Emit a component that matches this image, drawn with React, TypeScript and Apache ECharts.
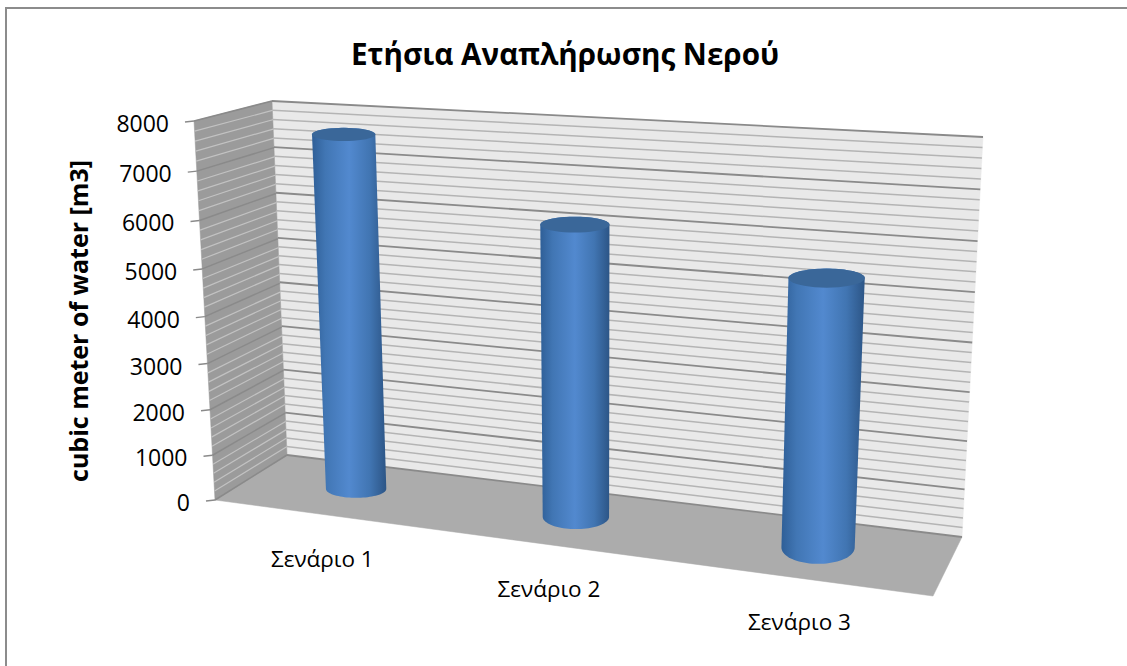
import React, { useEffect, useRef } from "react";
import * as echarts from "echarts";

const categories = ["Σενάριο 1", "Σενάριο 2", "Σενάριο 3"];
const waterVolumes = [7600, 6050, 5350];
const axisMax = 8000;
const majorStep = 1000;
const minorStep = 200;
const chartTitle = "Ετήσια Αναπλήρωσης Νερού";
const axisTitle = "cubic meter of water [m3]";

type Pt = [number, number];

// Corners of the 3D box on screen.
const floorFrontLeft: Pt = [215, 500];
const floorFrontRight: Pt = [933, 596];
const floorBackRight: Pt = [962, 537];
const floorBackLeft: Pt = [287, 455];
const topFrontLeft: Pt = [194, 121];
const topBackLeft: Pt = [272, 101];
const topBackRight: Pt = [983, 137];
const verticalVanish: Pt = [600, 7440];

const gridRect = { left: 100, top: 122, width: 800, height: 381 };
const fontFamily = "'Open Sans', 'Noto Sans', sans-serif";

// Coefficients of the projective map from the unit square to a quadrilateral.
function quadCoefficients(p0: Pt, p1: Pt, p2: Pt, p3: Pt) {
  const dx1 = p1[0] - p2[0];
  const dx2 = p3[0] - p2[0];
  const sx = p0[0] - p1[0] + p2[0] - p3[0];
  const dy1 = p1[1] - p2[1];
  const dy2 = p3[1] - p2[1];
  const sy = p0[1] - p1[1] + p2[1] - p3[1];
  const den = dx1 * dy2 - dx2 * dy1;
  const g = (sx * dy2 - dx2 * sy) / den;
  const h = (dx1 * sy - sx * dy1) / den;
  return {
    a: p1[0] - p0[0] + g * p1[0],
    b: p3[0] - p0[0] + h * p3[0],
    c: p0[0],
    d: p1[1] - p0[1] + g * p1[1],
    e: p3[1] - p0[1] + h * p3[1],
    f: p0[1],
    g,
    h,
  };
}

function quadMapper(p0: Pt, p1: Pt, p2: Pt, p3: Pt) {
  const m = quadCoefficients(p0, p1, p2, p3);
  return (s: number, t: number): Pt => {
    const den = m.g * s + m.h * t + 1;
    return [(m.a * s + m.b * t + m.c) / den, (m.d * s + m.e * t + m.f) / den];
  };
}

const floorPlane = quadMapper(floorFrontLeft, floorFrontRight, floorBackRight, floorBackLeft);
const backPlane = quadMapper(floorBackLeft, floorBackRight, topBackRight, topBackLeft);
const leftPlane = quadMapper(floorFrontLeft, floorBackLeft, topBackLeft, topFrontLeft);

// Full camera: the floor map plus a vertical direction towards its vanishing point.
const floorCoef = quadCoefficients(floorFrontLeft, floorFrontRight, floorBackRight, floorBackLeft);
const verticalK =
  (topFrontLeft[0] - floorFrontLeft[0]) / (verticalVanish[0] - topFrontLeft[0]);

function project(u: number, v: number, w: number): Pt {
  const m = floorCoef;
  const den = m.g * u + m.h * w + 1 + v * verticalK;
  return [
    (m.a * u + m.b * w + m.c + v * verticalK * verticalVanish[0]) / den,
    (m.d * u + m.e * w + m.f + v * verticalK * verticalVanish[1]) / den,
  ];
}

const gridLevels: number[] = [];
for (let value = 0; value <= axisMax; value += minorStep) gridLevels.push(value);
const axisTicks: number[] = [];
for (let value = 0; value <= axisMax; value += majorStep) axisTicks.push(value);

const columnDepth = 0.52;

const toU = (px: number) => (px - gridRect.left) / gridRect.width;
const toV = (py: number) => (gridRect.top + gridRect.height - py) / gridRect.height;

function renderBox(_params: any, api: any) {
  const children: any[] = [];
  const poly = (points: Pt[], fill: string) => ({
    type: "polygon",
    shape: { points },
    style: { fill, stroke: fill, lineWidth: 0.5 },
  });
  children.push(poly([floorPlane(0, 0), floorPlane(1, 0), floorPlane(1, 1), floorPlane(0, 1)], "#acacac"));
  children.push(poly([backPlane(0, 0), backPlane(1, 0), backPlane(1, 1), backPlane(0, 1)], "#e9e9e9"));
  children.push(poly([leftPlane(0, 0), leftPlane(1, 0), leftPlane(1, 1), leftPlane(0, 1)], "#9b9b9b"));
  for (const level of gridLevels) {
    const v = toV(api.coord([0, level])[1]);
    const major = level % majorStep === 0;
    children.push({
      type: "line",
      shape: { x1: backPlane(0, v)[0], y1: backPlane(0, v)[1], x2: backPlane(1, v)[0], y2: backPlane(1, v)[1] },
      style: { stroke: major ? "#8a8a8a" : "#b4b4b4", lineWidth: major ? 1.8 : 1.5 },
    });
    children.push({
      type: "line",
      shape: { x1: leftPlane(0, v)[0], y1: leftPlane(0, v)[1], x2: leftPlane(1, v)[0], y2: leftPlane(1, v)[1] },
      style: { stroke: major ? "#8a8a8a" : "#c2c2c2", lineWidth: major ? 1.5 : 1.2 },
    });
  }
  return { type: "group", children };
}

// An upright cylinder: its end ellipses stay level on screen and open up towards the viewer.
function renderColumn(_params: any, api: any) {
  const categoryIndex = api.value(0);
  const center = api.coord([categoryIndex, 0]);
  const top = api.coord([categoryIndex, api.value(1)]);
  const u = toU(center[0]);
  const v = toV(top[1]);
  const uRadius = (api.size([1, 0])[0] / gridRect.width) * 0.144;
  const ring = (height: number, ratio: number) => {
    const mid = project(u, height, columnDepth);
    const rx =
      (project(u + uRadius, height, columnDepth)[0] - project(u - uRadius, height, columnDepth)[0]) / 2;
    return { mid, rx, ry: rx * ratio };
  };
  const arc = (e: { mid: Pt; rx: number; ry: number }, from: number, to: number): Pt[] => {
    const pts: Pt[] = [];
    for (let i = 0; i <= 40; i++) {
      const angle = from + ((to - from) * i) / 40;
      pts.push([e.mid[0] + e.rx * Math.cos(angle), e.mid[1] + e.ry * Math.sin(angle)]);
    }
    return pts;
  };
  const base = ring(0, 0.26 + 0.22 * u);
  const head = ring(v, 0.2 + 0.06 * u);
  // Screen y grows downward, so angles 0 to PI trace the near side of the base.
  const body = [...arc(base, Math.PI, 0), ...arc(head, 0, -Math.PI)];
  return {
    type: "group",
    children: [
      {
        type: "polygon",
        shape: { points: body },
        style: {
          fill: new echarts.graphic.LinearGradient(0, 0, 1, 0, [
            { offset: 0, color: "#2f5f97" },
            { offset: 0.18, color: "#4176b4" },
            { offset: 0.5, color: "#5289cf" },
            { offset: 0.78, color: "#4175b2" },
            { offset: 1, color: "#2c5586" },
          ]),
        },
      },
      { type: "polygon", shape: { points: arc(head, 0, 2 * Math.PI) }, style: { fill: "#3a6799" } },
    ],
  };
}

function renderAxisTick(_params: any, api: any) {
  const level = api.value(0);
  const v = toV(api.coord([0, level])[1]);
  const edge = leftPlane(0, v);
  return {
    type: "group",
    children: [
      {
        type: "line",
        shape: { x1: edge[0] - 9, y1: edge[1] + 1, x2: edge[0], y2: edge[1] },
        style: { stroke: "#8a8a8a", lineWidth: 1.5 },
      },
      {
        type: "text",
        x: edge[0] - 25,
        y: edge[1] + 2,
        style: {
          text: String(level),
          fill: "#000",
          font: `23px ${fontFamily}`,
          textAlign: "right",
          textVerticalAlign: "middle",
        },
      },
    ],
  };
}

function renderCategoryLabel(_params: any, api: any) {
  const index = api.value(0);
  const u = toU(api.coord([index, 0])[0]);
  const edge = floorPlane(u, 0);
  return {
    type: "text",
    x: edge[0] + 2,
    y: edge[1] + 44,
    style: {
      text: categories[index],
      fill: "#000",
      font: `22.5px ${fontFamily}`,
      textAlign: "center",
      textVerticalAlign: "middle",
    },
  };
}

export default function App() {
  const ref = useRef<HTMLDivElement>(null);
  useEffect(() => {
    document.body.style.margin = "0";
    const chart = echarts.init(ref.current!, undefined, { renderer: "svg" });
    chart.setOption({
      animation: false,
      backgroundColor: "#ffffff",
      title: {
        text: chartTitle,
        left: 565,
        top: 33,
        textAlign: "center",
        textStyle: {
          fontFamily,
          fontWeight: "bold",
          fontSize: 29.6,
          color: "#000",
        },
      },
      grid: { ...gridRect },
      xAxis: { type: "category", data: categories, show: false },
      yAxis: { type: "value", min: 0, max: axisMax, interval: majorStep, show: false },
      graphic: [
        {
          type: "polyline",
          silent: true,
          shape: { points: [[6, 666], [6, 8], [1127, 8]] },
          style: { fill: "none", stroke: "#8c8c8c", lineWidth: 2 },
        },
        {
          type: "text",
          x: 78,
          y: 321,
          rotation: Math.PI / 2,
          style: {
            text: axisTitle,
            fill: "#000",
            font: `bold 25px ${fontFamily}`,
            textAlign: "center",
            textVerticalAlign: "middle",
          },
        },
      ],
      series: [
        { type: "custom", name: "box", coordinateSystem: "cartesian2d", renderItem: renderBox, data: [[0, 0]], silent: true, clip: false },
        { type: "custom", name: "ticks", coordinateSystem: "cartesian2d", renderItem: renderAxisTick, data: axisTicks.map((t) => [t]), encode: { y: 0 }, silent: true, clip: false },
        { type: "custom", name: "labels", coordinateSystem: "cartesian2d", renderItem: renderCategoryLabel, data: categories.map((_c, i) => [i]), encode: { x: 0 }, silent: true, clip: false },
        {
          type: "custom",
          name: "Ετήσια Αναπλήρωση",
          coordinateSystem: "cartesian2d",
          renderItem: renderColumn,
          data: waterVolumes.map((value, i) => [i, value]),
          encode: { x: 0, y: 1 },
          clip: false,
        },
      ],
    }, true);
    chart.setOption({ title: { left: 560 } });
    return () => chart.dispose();
  }, []);
  return <div ref={ref} style={{ width: 1127, height: 666 }} />;
}
